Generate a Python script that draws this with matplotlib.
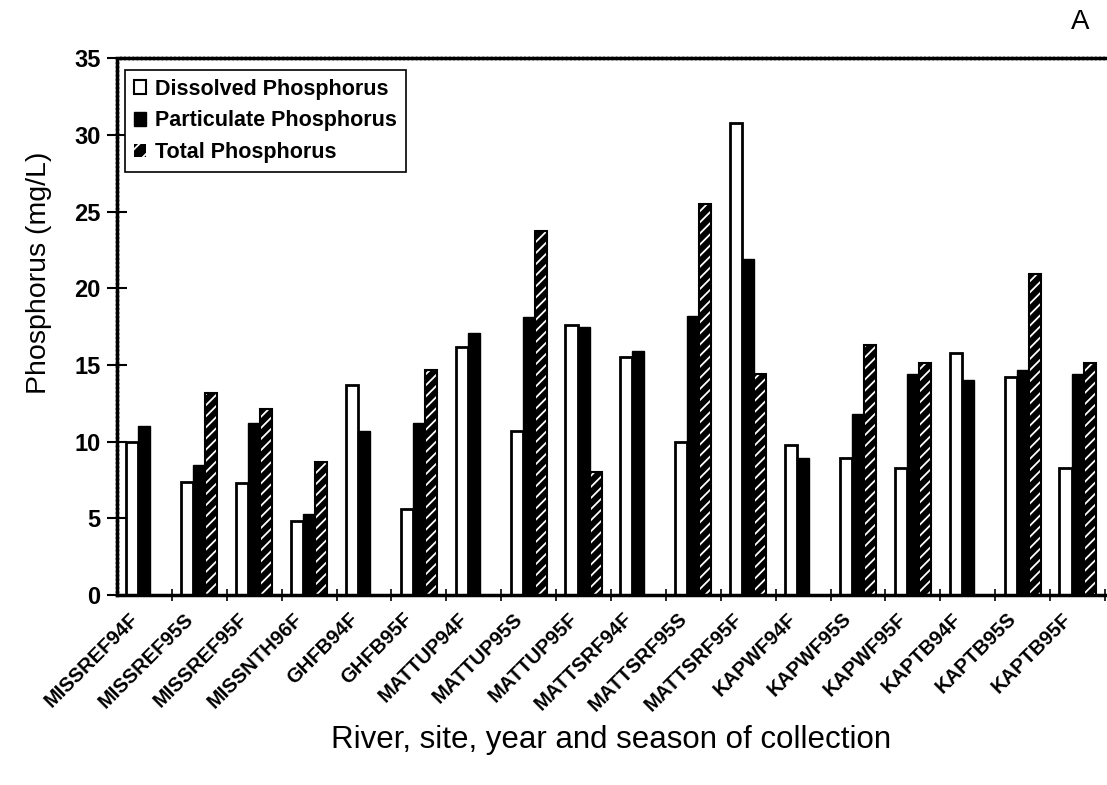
import numpy as np
import matplotlib
matplotlib.use("Agg")
import matplotlib.pyplot as plt
import matplotlib.transforms as mtransforms
from matplotlib.patches import Patch

plt.rcParams['font.family'] = ['Liberation Sans', 'DejaVu Sans']
plt.rcParams['hatch.linewidth'] = 1.3

sites = ["MISSREF94F", "MISSREF95S", "MISSREF95F", "MISSNTH96F", "GHFB94F", "GHFB95F",
         "MATTUP94F", "MATTUP95S", "MATTUP95F", "MATTSRF94F", "MATTSRF95S", "MATTSRF95F",
         "KAPWF94F", "KAPWF95S", "KAPWF95F", "KAPTB94F", "KAPTB95S", "KAPTB95F"]
dissolved = [10.0, 7.4, 7.3, 4.8, 13.7, 5.6, 16.2, 10.7, 17.6, 15.5, 10.0, 30.8,
             9.8, 8.9, 8.3, 15.8, 14.2, 8.3]
particulate = [11.0, 8.5, 11.2, 5.3, 10.7, 11.2, 17.1, 18.1, 17.5, 15.9, 18.2, 21.9,
               8.9, 11.8, 14.4, 14.0, 14.7, 14.4]
total = [np.nan, 13.2, 12.1, 8.7, np.nan, 14.7, np.nan, 23.7, 8.0, np.nan, 25.5, 14.4,
         np.nan, 16.3, 15.1, np.nan, 20.9, 15.1]

x = np.arange(len(sites))
w = 0.22
tot = np.array(total)
has_tot = ~np.isnan(tot)

fig = plt.figure(figsize=(11.07, 7.85), dpi=100)
ax = fig.add_axes([0.1057, 0.242, 0.8925, 0.684])

ax.bar(x - w, dissolved, w, facecolor='white', edgecolor='black', linewidth=2)
ax.bar(x, particulate, w, facecolor='black', edgecolor='black', linewidth=1)
ax.bar(x[has_tot] + w, tot[has_tot], w, facecolor='black', edgecolor='white',
       linewidth=0, hatch='///')
ax.bar(x[has_tot] + w, tot[has_tot], w, fill=False, edgecolor='black', linewidth=1.5)

ax.set_xlim(-0.5, len(sites) - 0.5)
ax.set_ylim(0, 35)
ax.set_yticks(np.arange(0, 36, 5))
ax.set_yticklabels([str(v) for v in range(0, 36, 5)], fontsize=17, fontweight='bold')
ax.tick_params(axis='y', direction='inout', length=14, width=1.5, pad=5)

ax.set_xticks(x + 0.5, minor=True)
ax.set_xticks(x)
ax.set_xticklabels(sites, rotation=45, ha='right', rotation_mode='anchor',
                   fontsize=14.5, fontweight='bold')
ax.tick_params(axis='x', which='major', length=0, pad=6)
ax.tick_params(axis='x', which='minor', direction='inout', length=8, width=1.2)
shift = mtransforms.ScaledTranslation(-0.16, -0.06, fig.dpi_scale_trans)
for lab in ax.get_xticklabels():
    lab.set_transform(lab.get_transform() + shift)

ax.spines['right'].set_visible(False)
ax.spines['top'].set_linestyle((0, (0.7, 0.5)))
ax.spines['top'].set_linewidth(2.5)
ax.spines['left'].set_linestyle((0, (0.7, 0.5)))
ax.spines['left'].set_linewidth(2.5)
ax.spines['bottom'].set_linewidth(2.5)

ax.set_ylabel("Phosphorus (mg/L)", fontsize=20.5)
ax.yaxis.set_label_coords(-0.066, 0.6)
fig.text(0.552, 0.057, "River, site, year and season of collection", fontsize=22.5,
         ha='center', va='center')
fig.text(0.976, 0.972, "A", fontsize=20, ha='center', va='center')

handles = [Patch(facecolor='white', edgecolor='black', linewidth=1.5, label='Dissolved Phosphorus'),
           Patch(facecolor='black', edgecolor='black', label='Particulate Phosphorus'),
           Patch(facecolor='black', edgecolor='white', hatch='//', linewidth=0, label='Total Phosphorus')]
leg = ax.legend(handles=handles, loc='upper left', bbox_to_anchor=(0.008, 0.978),
                prop={'size': 15.5, 'weight': 'bold'}, fancybox=False, framealpha=1,
                edgecolor='black', handlelength=0.6, handleheight=0.6, handletextpad=0.4,
                borderpad=0.4, labelspacing=0.5, borderaxespad=0)
leg.get_frame().set_linewidth(1.2)

fig.savefig("out.png", dpi=100)
